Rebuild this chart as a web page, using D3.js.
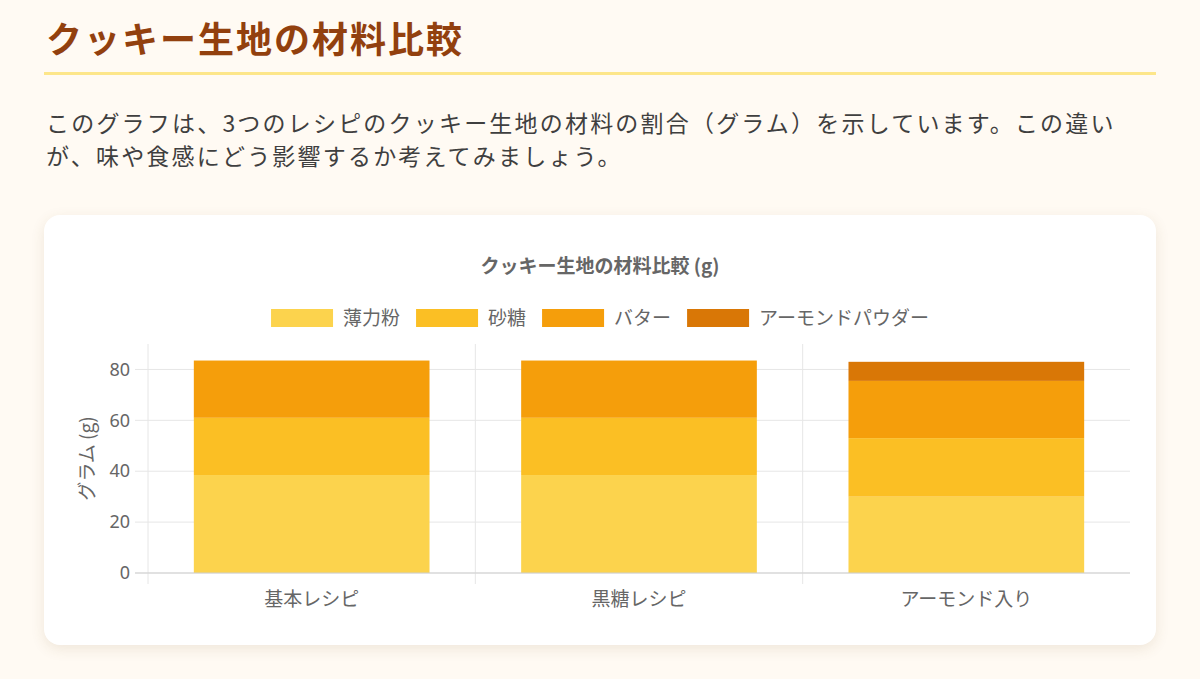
<!DOCTYPE html>
<html lang="ja">
<head>
<meta charset="utf-8">
<script src="https://cdn.jsdelivr.net/npm/d3@7"></script>
<style>
  html, body { margin: 0; padding: 0; }
  body {
    width: 1200px; height: 679px; overflow: hidden;
    background: #fffaf3;
    font-family: "Noto Sans CJK JP", "Noto Sans", sans-serif;
  }
  h1 {
    position: absolute; left: 46px; top: 12px; margin: 0;
    font-size: 36px; font-weight: 700; color: #92400e; letter-spacing: 2px;
    line-height: 50px;
  }
  .rule {
    position: absolute; left: 44px; top: 72px; width: 1112px; height: 3px;
    background: #fde68a;
  }
  p.lead {
    position: absolute; left: 46px; top: 106px; margin: 0;
    font-size: 23px; line-height: 33px; color: #3f3f3f; letter-spacing: 2.2px;
    white-space: nowrap;
  }
  .card {
    position: absolute; left: 44px; top: 215px; width: 1112px; height: 430px;
    background: #fff; border-radius: 16px;
    box-shadow: 0 4px 14px rgba(120, 90, 40, 0.12);
  }
  #chart { position: absolute; left: 0; top: 0; }
</style>
</head>
<body>
<h1>クッキー生地の材料比較</h1>
<div class="rule"></div>
<p class="lead">このグラフは、3つのレシピのクッキー生地の材料の割合（グラム）を示しています。この違い<br>が、味や食感にどう影響するか考えてみましょう。</p>
<div class="card"></div>
<svg id="chart" width="1200" height="679"></svg>
<script>
// data
var recipes = ["基本レシピ", "黒糖レシピ", "アーモンド入り"];
var ingredients = ["薄力粉", "砂糖", "バター", "アーモンドパウダー"];
var flour = [38.5, 38.5, 30];
var sugar = [22.5, 22.5, 23];
var butter = [22.5, 22.5, 22.5];
var almond = [0, 0, 7.5];
var yTicks = [0, 20, 40, 60, 80];
var colors = ["#fcd34d", "#fbbf24", "#f59e0b", "#d97706"];

var series = [flour, sugar, butter, almond];
var rows = recipes.map(function(r, i) {
  var o = { recipe: r };
  ingredients.forEach(function(k, j) { o[k] = series[j][i]; });
  return o;
});

var svg = d3.select("#chart");
var plotLeft = 148, plotRight = 1130, plotTop = 344, plotBottom = 573;
var labelFont = "19px";

var x = d3.scaleBand()
  .domain(recipes)
  .range([plotLeft, plotRight])
  .paddingInner(0.28)
  .paddingOuter(0.14);

var y = d3.scaleLinear()
  .domain([0, 90])
  .range([plotBottom, plotTop]);

var stacked = d3.stack().keys(ingredients)(rows);

// horizontal grid + ticks
svg.append("g")
  .attr("class", "y grid")
  .selectAll("line")
  .data(yTicks)
  .enter()
  .append("line")
  .attr("x1", plotLeft - 13)
  .attr("x2", plotRight)
  .attr("y1", function(d) { return y(d); })
  .attr("y2", function(d) { return y(d); })
  .attr("stroke", "#e6e6e6")
  .attr("stroke-width", 1);

// vertical grid at category edges
var step = x.step();
var edges = recipes.map(function(r, i) { return plotLeft + i * step; });
svg.append("g")
  .attr("class", "x grid")
  .selectAll("line")
  .data(edges)
  .enter()
  .append("line")
  .attr("x1", function(d) { return d; })
  .attr("x2", function(d) { return d; })
  .attr("y1", plotTop)
  .attr("y2", plotBottom + 11)
  .attr("stroke", "#e6e6e6")
  .attr("stroke-width", 1);

// bars
svg.append("g")
  .selectAll("g")
  .data(stacked)
  .enter()
  .append("g")
  .attr("fill", function(d, i) { return colors[i]; })
  .selectAll("rect")
  .data(function(d) { return d; })
  .enter()
  .append("rect")
  .attr("x", function(d) { return x(d.data.recipe); })
  .attr("y", function(d) { return y(d[1]); })
  .attr("width", x.bandwidth())
  .attr("height", function(d) { return y(d[0]) - y(d[1]); });

// baseline
svg.append("line")
  .attr("x1", plotLeft - 13)
  .attr("x2", plotRight)
  .attr("y1", plotBottom)
  .attr("y2", plotBottom)
  .attr("stroke", "#cfcfcf");

// y axis labels
var yAxis = d3.axisLeft(y).tickValues(yTicks).tickSize(0).tickPadding(0);
var yg = svg.append("g")
  .attr("transform", "translate(" + (plotLeft - 18) + ",0)")
  .call(yAxis);
yg.select(".domain").remove();
yg.selectAll("text")
  .attr("fill", "#666")
  .style("font-family", "'Noto Sans', sans-serif")
  .style("font-size", "18px");

// x axis labels
var xAxis = d3.axisBottom(x).tickSize(0).tickPadding(0);
var xg = svg.append("g")
  .attr("transform", "translate(0," + (plotBottom + 19) + ")")
  .call(xAxis);
xg.select(".domain").remove();
xg.selectAll("text")
  .attr("fill", "#666")
  .style("font-family", "'Noto Sans CJK JP', sans-serif")
  .style("font-size", labelFont);

// y title
svg.append("text")
  .attr("transform", "translate(94," + ((plotTop + plotBottom) / 2) + ") rotate(-90)")
  .attr("text-anchor", "middle")
  .attr("fill", "#666")
  .style("font-size", labelFont)
  .text("グラム (g)");

// chart title
svg.append("text")
  .attr("x", 600)
  .attr("y", 273)
  .attr("text-anchor", "middle")
  .attr("fill", "#666")
  .style("font-size", labelFont)
  .style("font-weight", "700")
  .text("クッキー生地の材料比較 (g)");

// legend, laid out from measured text widths and centred
var boxW = 62, boxH = 18, boxGap = 10, itemGap = 16;
var legend = svg.append("g");
var items = legend.selectAll("g")
  .data(ingredients)
  .enter()
  .append("g");
items.append("rect")
  .attr("width", boxW)
  .attr("height", boxH)
  .attr("fill", function(d, i) { return colors[i]; });
items.append("text")
  .attr("x", boxW + boxGap)
  .attr("y", 16)
  .attr("fill", "#666")
  .style("font-size", labelFont)
  .text(function(d) { return d; });
var offs = [], cur = 0;
items.each(function() {
  var w = d3.select(this).select("text").node().getComputedTextLength();
  offs.push(cur);
  cur += boxW + boxGap + w + itemGap;
});
var total = cur - itemGap;
items.attr("transform", function(d, i) {
  return "translate(" + (600 - total / 2 + offs[i]) + ",309)";
});
</script>
</body>
</html>
